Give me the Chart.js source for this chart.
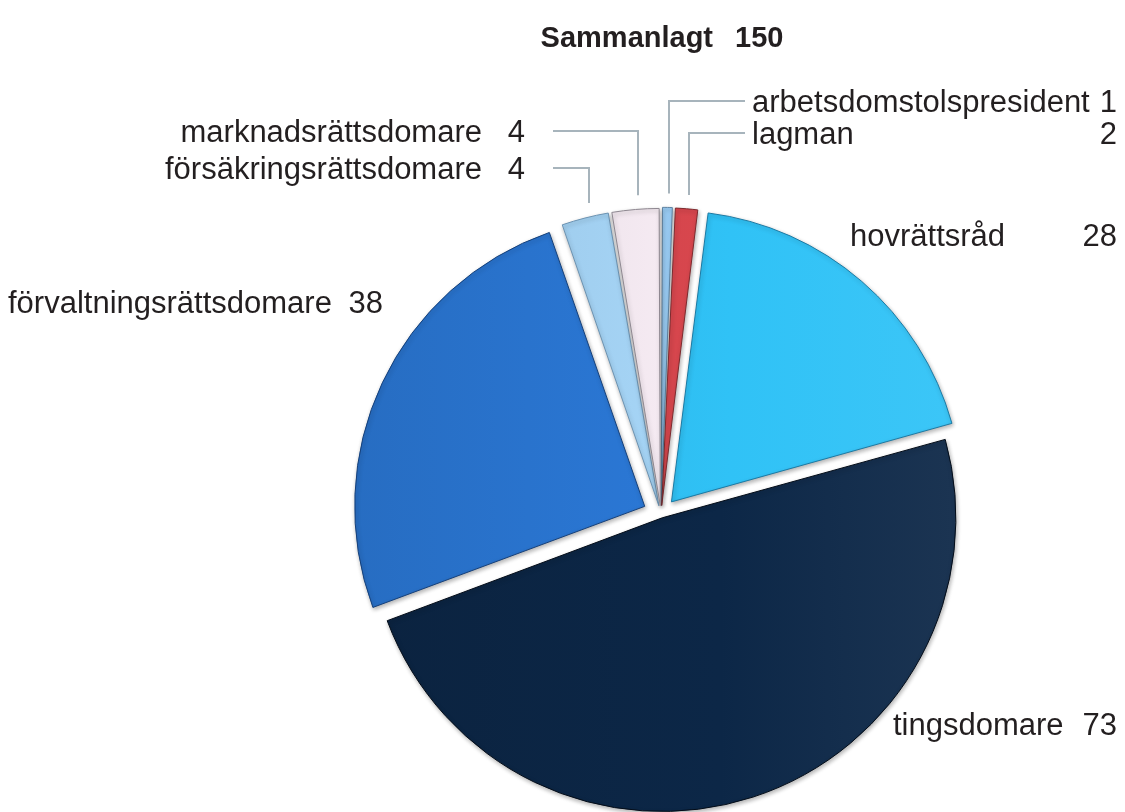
<!DOCTYPE html>
<html>
<head>
<meta charset="utf-8">
<script src="https://cdn.jsdelivr.net/npm/chart.js@4.4.1/dist/chart.umd.min.js"></script>
<style>
  html, body { margin: 0; padding: 0; background: #fff; }
  #wrap { width: 1125px; height: 812px; }
</style>
</head>
<body>
<div id="wrap"><canvas id="judgeChart" width="1125" height="812"></canvas></div>
<script>
// ==========================================
// DATA
// ==========================================
const categories = [
  "arbetsdomstolspresident",
  "lagman",
  "hovrättsråd",
  "tingsdomare",
  "förvaltningsrättsdomare",
  "försäkringsrättsdomare",
  "marknadsrättsdomare"
];
const counts = [1, 2, 28, 73, 38, 4, 4];
const totalTitle = "Sammanlagt";

// ==========================================
// STYLE
// ==========================================
const sliceColors  = ["#9acdf5", "#d9474e", "#30c2f6", "#0c2747", "#2b79d8", "#a8d8fa", "#f9eef6"];
const sliceBorders = ["#5f84a3", "#7d2a2e", "#1b7aa4", "#030c18", "#15407a", "#6c93b2", "#8e8790"];
// Chart.js v4 moves a slice by offset/4 (and grows thin slices by about as much)
const sliceOffsets = [34, 34, 64, 16, 72, 34, 34];
const PIE_RADIUS = 290;
const FONT = "'Liberation Sans', Arial, sans-serif";
const TEXT_COLOR = "#231f20";
const LEADER_COLOR = "#a7b4bc";

// label placement (baseline y), number right edge, optional leader line
const labelLayout = [
  { x: 752, y: 112, align: "left",  numX: 1117, leader: { t: 0.6, toX: 745 } },
  { x: 752, y: 144, align: "left",  numX: 1117, leader: { t: 0.6, toX: 745 } },
  { x: 850, y: 246, align: "left",  numX: 1117 },
  { x: 893, y: 735, align: "left",  numX: 1117 },
  { x: 8,   y: 313, align: "left",  numX: 383 },
  { x: 482, y: 179, align: "right", numX: 525, leader: { t: 0.58, toX: 553 } },
  { x: 482, y: 142, align: "right", numX: 525, leader: { t: 0.56, toX: 553 } }
];

function shade(hex, amt) {
  const n = parseInt(hex.slice(1), 16);
  let r = (n >> 16) & 255, g = (n >> 8) & 255, b = n & 255;
  const t = amt < 0 ? 0 : 255, p = Math.abs(amt);
  r = Math.round(r + (t - r) * p);
  g = Math.round(g + (t - g) * p);
  b = Math.round(b + (t - b) * p);
  return `rgb(${r},${g},${b})`;
}

function sliceFill(context) {
  const base = sliceColors[context.dataIndex];
  const area = context.chart.chartArea;
  if (!area) return base;
  const cx = (area.left + area.right) / 2;
  const g = context.chart.ctx.createLinearGradient(cx - PIE_RADIUS, 0, cx + PIE_RADIUS, 0);
  g.addColorStop(0, shade(base, -0.1));
  g.addColorStop(0.6, base);
  g.addColorStop(1, shade(base, 0.06));
  return g;
}

// ==========================================
// PLUGINS
// ==========================================
const shadowPlugin = {
  id: "sliceShadow",
  beforeDatasetsDraw(chart) {
    const ctx = chart.ctx;
    ctx.save();
    ctx.shadowColor = "rgba(0,0,0,0.3)";
    ctx.shadowBlur = 4;
    ctx.shadowOffsetX = 1;
    ctx.shadowOffsetY = 2;
  },
  afterDatasetsDraw(chart) {
    chart.ctx.restore();
  }
};

const labelPlugin = {
  id: "pieLabels",
  afterDraw(chart) {
    const ctx = chart.ctx;
    const arcs = chart.getDatasetMeta(0).data;
    const values = chart.data.datasets[0].data;
    const total = values.reduce((a, b) => a + b, 0);

    ctx.save();
    ctx.fillStyle = TEXT_COLOR;
    ctx.textBaseline = "alphabetic";

    // title
    ctx.font = "bold 29px " + FONT;
    const tW = ctx.measureText(totalTitle).width;
    const nW = ctx.measureText(String(total)).width;
    const gap = 22;
    const startX = 662 - (tW + gap + nW) / 2;
    ctx.textAlign = "left";
    ctx.fillText(totalTitle, startX, 47);
    ctx.fillText(String(total), startX + tW + gap, 47);

    ctx.font = "31px " + FONT;
    chart.data.labels.forEach((name, i) => {
      const L = labelLayout[i];
      ctx.textAlign = L.align;
      ctx.fillText(name, L.x, L.y);
      ctx.textAlign = "right";
      ctx.fillText(String(values[i]), L.numX, L.y);

      if (L.leader) {
        const arc = arcs[i];
        const shift = (arc.options.offset || 0) / 4;
        const sweep = arc.endAngle - arc.startAngle;
        const r = arc.outerRadius + shift * (1 - Math.sin(Math.min(Math.PI, sweep)));
        const mid = (arc.startAngle + arc.endAngle) / 2;
        const a = arc.startAngle + sweep * L.leader.t;
        const px = arc.x + Math.cos(mid) * shift + Math.cos(a) * r;
        const py = arc.y + Math.sin(mid) * shift + Math.sin(a) * r;
        const elbowY = L.y - 11;
        ctx.strokeStyle = LEADER_COLOR;
        ctx.lineWidth = 2;
        ctx.beginPath();
        ctx.moveTo(Math.round(px), py - 14);
        ctx.lineTo(Math.round(px), elbowY);
        ctx.lineTo(L.leader.toX, elbowY);
        ctx.stroke();
      }
    });
    ctx.restore();
  }
};

// ==========================================
// CHART
// ==========================================
new Chart(document.getElementById("judgeChart"), {
  type: "pie",
  data: {
    labels: categories,
    datasets: [{
      data: counts,
      backgroundColor: sliceFill,
      borderColor: sliceBorders,
      borderWidth: 1,
      offset: sliceOffsets
    }]
  },
  options: {
    responsive: false,
    devicePixelRatio: 1,
    animation: false,
    rotation: 0,
    radius: PIE_RADIUS,
    layout: { padding: { left: 197, right: 0, top: 216, bottom: 0 } },
    plugins: {
      legend: { display: false },
      tooltip: { enabled: false }
    }
  },
  plugins: [shadowPlugin, labelPlugin]
});
</script>
</body>
</html>
